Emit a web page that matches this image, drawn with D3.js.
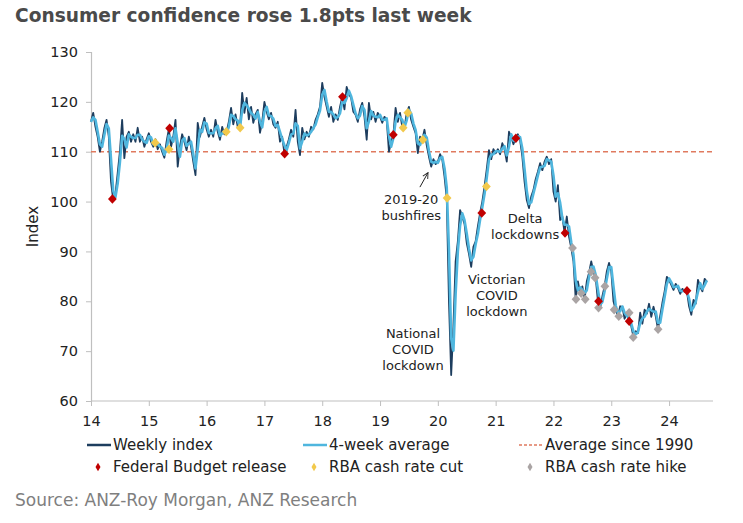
<!DOCTYPE html>
<html>
<head>
<meta charset="utf-8">
<script src="https://cdn.jsdelivr.net/npm/d3@7/dist/d3.min.js"></script>
<style>
  html, body { margin: 0; padding: 0; background: #ffffff; }
  svg { display: block; }
  text { font-family: "DejaVu Sans", Verdana, sans-serif; }
</style>
</head>
<body>
<svg id="chart" width="743" height="523"></svg>
<script>
// ---------------- DATA ----------------
const titleText = "Consumer confidence rose 1.8pts last week";
const sourceText = "Source: ANZ-Roy Morgan, ANZ Research";
const yAxisLabel = "Index";

// Weekly index, sampled every fortnight from start of 2014
const seriesStart = 2014;
const samplesPerYear = 26;
const weeklyIndex = [
  // 2014
  116, 117.8, 115, 113, 110, 112, 114.7, 116.4, 113, 104, 100.3, 101.5, 105.7, 110, 116.4, 108.7, 113, 114, 112, 113.5, 112, 114.8, 112, 113, 111, 112.5,
  // 2015
  113.7, 112, 111, 112.5, 110.5, 111.5, 110, 108.8, 112, 114.5, 111, 113, 116.4, 107, 111, 113.5, 112, 110.3, 113, 111, 108, 105.3, 115.8, 113, 115, 116.8,
  // 2016
  114.5, 113, 114.4, 113, 116.4, 114, 112.4, 115, 113.5, 114, 116, 118.8, 115.5, 117.5, 115, 114.8, 121.8, 117.8, 120.8, 116.5, 119, 115.8, 117.5, 118.4, 113.8, 116,
  // 2017
  120, 118, 116.5, 117.8, 115.5, 114.8, 116, 112, 113, 109.6, 111, 112.5, 114.4, 113, 118.4, 112, 109.3, 114.8, 112.5, 114, 113, 115, 114.5, 116.4, 117.5, 119,
  // 2018
  123.8, 121, 119, 117, 119, 116, 117.5, 116.4, 119, 121, 118.5, 123, 121.5, 120.8, 118, 117.4, 116, 118.5, 119.8, 117, 112.4, 119.8, 116.5, 118, 116, 117.8,
  // 2019
  117, 115.8, 117, 116.4, 110, 112, 113.4, 118.8, 116, 117.8, 115, 114.8, 117.8, 119, 116.4, 115, 113.7, 109.7, 113, 112.4, 114.4, 111.3, 109, 107, 108.5, 107.5,
  // 2020
  108, 109.5, 108.4, 105, 100.7, 80, 65.2, 75, 88, 92, 98.3, 97, 95.5, 91.7, 89.5, 86.9, 90.9, 92, 95, 97.7, 100, 103, 106.5, 110.3, 108.5, 110.5,
  // 2021
  109.7, 110.5, 109.5, 111.7, 110.5, 108, 114, 113, 111.5, 112.7, 113.5, 112.3, 109, 104, 100.3, 98.7, 101, 102.3, 104.5, 106, 107.7, 106.3, 108, 109, 107.5, 108.5,
  // 2022
  102, 100, 103.3, 96.3, 97, 93.7, 97, 93, 90.7, 88, 80.4, 84, 81.6, 83, 80.4, 84, 85.7, 88, 85.9, 84.7, 80, 78.7, 81, 83, 86, 87.7,
  // 2023
  86, 80, 78.3, 77, 79, 78.9, 76.5, 77.6, 76, 75, 72.8, 74, 73.6, 77.7, 75.5, 78.3, 77.5, 79.5, 76.9, 78.9, 77, 74.4, 77, 79.7, 82, 84.9,
  // 2024
  84.3, 83.3, 82.3, 83.5, 82.7, 81.5, 82.5, 81.9, 82.1, 79, 77.3, 80.3, 79.5, 84.3, 82.9, 82, 84.5, 83.9
];
const averageSince1990 = 110;

// Event markers (decimal year, index value)
const budgetDates  = [2014.37, 2015.36, 2017.35, 2018.35, 2019.23, 2020.76, 2021.35, 2022.20, 2022.78, 2023.31, 2024.31];
const budgetValues = [100.5, 114.7, 109.6, 121, 113.4, 97.7, 112.7, 93.7, 80, 76, 82.1];
const cutDates     = [2015.11, 2015.35, 2016.34, 2016.58, 2019.40, 2019.48, 2019.74, 2020.16, 2020.84];
const cutValues    = [111.8, 110.5, 114, 114.8, 114.8, 117.8, 112.4, 100.7, 103];
const hikeDates    = [2022.33, 2022.39, 2022.48, 2022.55, 2022.65, 2022.72, 2022.78, 2022.89, 2023.05, 2023.13, 2023.31, 2023.38, 2023.81];
const hikeValues   = [90.7, 80.4, 81.6, 80.4, 85.9, 84.7, 78.7, 83, 78.3, 77, 77.7, 72.8, 74.4];

const yTicks = [60, 70, 80, 90, 100, 110, 120, 130];
const xTicks = [2014, 2015, 2016, 2017, 2018, 2019, 2020, 2021, 2022, 2023, 2024];

// Annotation anchor: centre x (decimal year), first baseline (index value)
const annotations = [
  { date: 2019.54, value: 99.5, lines: ["2019-20", "bushfires"] },
  { date: 2019.57, value: 72.6, lines: ["National", "COVID", "lockdown"] },
  { date: 2021.02, value: 83.5, lines: ["Victorian", "COVID", "lockdown"] },
  { date: 2021.51, value: 95.7, lines: ["Delta", "lockdowns"] }
];
const arrowFrom = { date: 2019.69, value: 102.9 };
const arrowTo   = { date: 2019.83, value: 105.8 };

// ---------------- STYLE ----------------
const colors = {
  weekly: "#1d3d5e",
  avg4: "#4fb6de",
  longAvg: "#e07a5f",
  budget: "#c00000",
  cut: "#f2c94c",
  hike: "#aaa4a4",
  axis: "#bfbfbf",
  text: "#222222",
  title: "#4a4a4a",
  source: "#7f7f7f"
};

const svg = d3.select("#chart");

const x = d3.scaleLinear().domain([2014, 2024.76]).range([91, 713]);
const y = d3.scaleLinear().domain([60, 130]).range([401, 52]);

// Build series
const weekly = weeklyIndex.map((v, i) => ({ t: seriesStart + i / samplesPerYear, v }));
const avg4 = weekly.map((d, i) => {
  const win = weekly.slice(Math.max(0, i - 1), i + 1);
  return { t: d.t, v: d3.mean(win, e => e.v) };
});

// Title
svg.append("text")
  .attr("x", 15).attr("y", 22)
  .attr("font-size", 18.6).attr("font-weight", "bold")
  .attr("fill", colors.title)
  .text(titleText);

// Axes
const yAxis = d3.axisLeft(y).tickValues(yTicks).tickSize(5).tickPadding(8);
const gy = svg.append("g").attr("transform", `translate(91,0)`).call(yAxis);
gy.select(".domain").attr("stroke", colors.axis).attr("stroke-width", 1.2);
gy.selectAll(".tick line").attr("stroke", colors.axis);
gy.selectAll(".tick text").attr("font-size", 14.5).attr("fill", colors.text)
  .attr("font-family", "DejaVu Sans");

const xAxis = d3.axisBottom(x).tickValues(xTicks).tickSize(5).tickPadding(10)
  .tickFormat(d => String(d).slice(2));
const gx = svg.append("g").attr("transform", `translate(0,401)`).call(xAxis);
gx.select(".domain").attr("stroke", colors.axis).attr("stroke-width", 1.2)
  .attr("d", `M91,0H713`);
gx.selectAll(".tick line").attr("stroke", colors.axis);
gx.selectAll(".tick text").attr("font-size", 14.5).attr("fill", colors.text)
  .attr("font-family", "DejaVu Sans");

// Y label
svg.append("text")
  .attr("transform", `translate(38,${(y(130) + y(60)) / 2}) rotate(-90)`)
  .attr("text-anchor", "middle")
  .attr("font-size", 15).attr("fill", colors.text)
  .text(yAxisLabel);

// Long-run average
svg.append("line")
  .attr("x1", x(2014)).attr("x2", 713)
  .attr("y1", y(averageSince1990)).attr("y2", y(averageSince1990))
  .attr("stroke", colors.longAvg).attr("stroke-width", 1.5)
  .attr("stroke-dasharray", "5,3");

const line = d3.line().x(d => x(d.t)).y(d => y(d.v));

svg.append("path").datum(weekly)
  .attr("d", line).attr("fill", "none")
  .attr("stroke", colors.weekly).attr("stroke-width", 1.8)
  .attr("stroke-linejoin", "round");

svg.append("path").datum(avg4)
  .attr("d", line).attr("fill", "none")
  .attr("stroke", colors.avg4).attr("stroke-width", 2.6)
  .attr("stroke-linejoin", "round");

// Markers
const diamond = d3.symbol().type(d3.symbolDiamond).size(26);
function drawMarkers(dates, values, color) {
  svg.append("g").selectAll("path")
    .data(dates.map((t, i) => ({ t, v: values[i] })))
    .join("path")
    .attr("d", diamond)
    .attr("transform", d => `translate(${x(d.t)},${y(d.v)}) scale(1.6,1)`)
    .attr("fill", color);
}
drawMarkers(cutDates, cutValues, colors.cut);
drawMarkers(hikeDates, hikeValues, colors.hike);
drawMarkers(budgetDates, budgetValues, colors.budget);

// Annotations
annotations.forEach(a => {
  const t = svg.append("text")
    .attr("x", x(a.date)).attr("y", y(a.value))
    .attr("text-anchor", "middle")
    .attr("font-size", 13).attr("fill", colors.text);
  a.lines.forEach((l, i) => {
    t.append("tspan").attr("x", x(a.date)).attr("dy", i === 0 ? 0 : 16).text(l);
  });
});
svg.append("defs").append("marker")
  .attr("id", "arr").attr("viewBox", "0 0 10 10")
  .attr("refX", 9).attr("refY", 5)
  .attr("markerWidth", 7).attr("markerHeight", 7)
  .attr("orient", "auto")
  .append("path").attr("d", "M1,1 L9,5 L1,9").attr("fill", "none")
  .attr("stroke", colors.text).attr("stroke-width", 1.3);
svg.append("line")
  .attr("x1", x(arrowFrom.date)).attr("y1", y(arrowFrom.value))
  .attr("x2", x(arrowTo.date)).attr("y2", y(arrowTo.value))
  .attr("stroke", colors.text).attr("stroke-width", 1)
  .attr("marker-end", "url(#arr)");

// Legend
const legend = svg.append("g").attr("font-size", 15).attr("fill", colors.text);
const legendCols = [87, 303, 519];
const textOffset = 26;
const row1 = 445, row2 = 467;
const lineItems = [
  { label: "Weekly index", color: colors.weekly, dash: null, w: 2.5 },
  { label: "4-week average", color: colors.avg4, dash: null, w: 2.5 },
  { label: "Average since 1990", color: colors.longAvg, dash: "3,2", w: 1.3 }
];
lineItems.forEach((it, i) => {
  const x0 = legendCols[i];
  legend.append("line")
    .attr("x1", x0).attr("x2", x0 + 24).attr("y1", row1).attr("y2", row1)
    .attr("stroke", it.color).attr("stroke-width", it.w)
    .attr("stroke-dasharray", it.dash);
  legend.append("text").attr("x", x0 + textOffset).attr("y", row1)
    .attr("dy", "0.35em").text(it.label);
});
const markerItems = [
  { label: "Federal Budget release", color: colors.budget },
  { label: "RBA cash rate cut", color: colors.cut },
  { label: "RBA cash rate hike", color: colors.hike }
];
const legendDiamond = d3.symbol().type(d3.symbolDiamond).size(22);
markerItems.forEach((it, i) => {
  const x0 = legendCols[i];
  legend.append("path").attr("d", legendDiamond)
    .attr("transform", `translate(${x0 + 11},${row2})`)
    .attr("fill", it.color);
  legend.append("text").attr("x", x0 + textOffset).attr("y", row2)
    .attr("dy", "0.35em").text(it.label);
});

// Source
svg.append("text")
  .attr("x", 15).attr("y", 500).attr("dy", "0.35em")
  .attr("font-size", 17).attr("fill", colors.source)
  .text(sourceText);
</script>
</body>
</html>
